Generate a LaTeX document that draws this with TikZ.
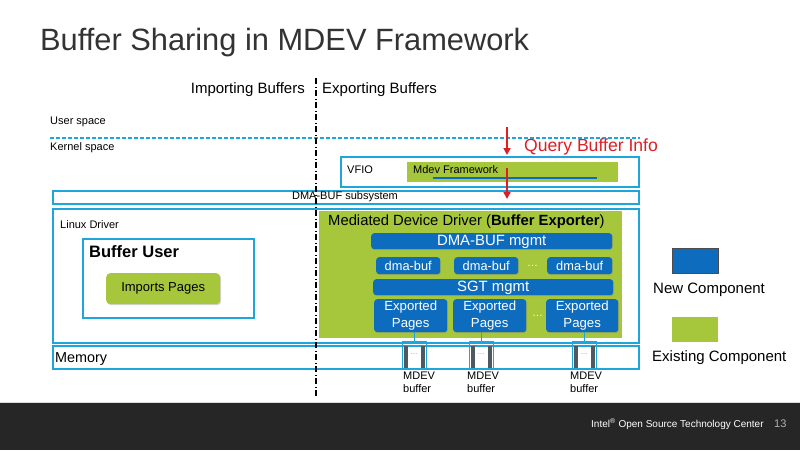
\documentclass[tikz,border=0pt]{standalone}
\usepackage{fontspec}
\setmainfont{Liberation Sans}
\usetikzlibrary{positioning,arrows.meta,shadows}

\definecolor{linecyan}{RGB}{30,165,220}
\definecolor{oldgreen}{RGB}{166,199,60}
\definecolor{newblue}{RGB}{14,108,190}
\definecolor{queryred}{RGB}{222,30,36}
\definecolor{titlegray}{RGB}{51,51,51}
\definecolor{footbg}{RGB}{38,38,38}
\definecolor{bargray}{RGB}{80,88,96}

\newcommand{\fsz}[1]{\fontsize{#1}{#1}\selectfont}

\tikzset{
  every node/.style={inner sep=0pt},
  layerbox/.style={draw=linecyan, line width=1.6pt, anchor=north west},
  greenbox/.style={fill=oldgreen, anchor=north west},
  bluebox/.style={fill=newblue, rounded corners=3pt, anchor=north west, text=white,
    drop shadow={shadow xshift=0.8pt, shadow yshift=-0.8pt, opacity=0.35}},
  bufbox/.style={draw=linecyan, line width=1pt, minimum width=24pt, minimum height=27pt},
  lbl/.style={anchor=base west},
  divider/.style={line width=1.3pt, dash pattern=on 6pt off 2.5pt on 1pt off 2.5pt},
  query/.style={queryred, line width=1.6pt, -{Triangle[length=7pt,width=7pt]}},
}

\begin{document}
\begin{tikzpicture}[x=1pt,y=-1pt]
  \useasboundingbox (0,0) rectangle (800,450);
  \fill[footbg] (0,402) rectangle (800,450);
  \draw[black!15, line width=0.8pt] (0,402) -- (800,402);

  % title and the two halves
  \node[lbl, text=titlegray, font=\fsz{30.8}] (title) at (40,50) {Buffer Sharing in MDEV Framework};
  \node[anchor=base east, font=\fsz{15}] (imp) at (305,93) {Importing Buffers};
  \node[lbl, font=\fsz{15}] (exp) at (322,93) {Exporting Buffers};
  \coordinate (divtop) at (316,78);
  \coordinate (divbot) at (316,398);

  % user / kernel split
  \node[lbl, font=\fsz{11}] (user) at (50,124) {User space};
  \node[lbl, font=\fsz{11}] (kernel) at (50,150) {Kernel space};
  \coordinate (splitl) at (50,138);
  \coordinate (splitr) at (640,138);
  \draw[linecyan, line width=1.2pt, dash pattern=on 4pt off 2pt] (splitl) -- (splitr);

  % VFIO
  \node[layerbox, minimum width=298pt, minimum height=30pt] (vfio) at (340,156) {};
  \node[lbl, font=\fsz{11}] (vfiotxt) at (347,173) {VFIO};
  \node[greenbox, minimum width=211pt, minimum height=20pt] (mdevfw) at (407,162) {};
  \node[lbl, font=\fsz{11}] (mdevtxt) at (413,173) {Mdev Framework};
  \draw[newblue, line width=2.5pt] (433,178) -- (597,178);

  % DMA-BUF subsystem
  \node[layerbox, minimum width=586pt, minimum height=13pt] (dmabuf) at (52,190) {};
  \node[font=\fsz{11}] (dmabuftxt) at (345,196.5) {DMA-BUF subsystem};

  % importer side
  \node[layerbox, minimum width=586pt, minimum height=134pt] (linux) at (52,208) {};
  \node[lbl, font=\fsz{11}] (linuxtxt) at (60,228) {Linux Driver};
  \node[layerbox, minimum width=171pt, minimum height=79pt] (user) at (82,238) {};
  \node[lbl, font=\bfseries\fsz{16.5}] (usertxt) at (89,257) {Buffer User};
  \node[greenbox, rounded corners=4pt, minimum width=114pt, minimum height=31pt, font=\fsz{13},
    drop shadow={shadow xshift=1pt, shadow yshift=-1pt, opacity=0.35}] (imports) at (106,273) {Imports Pages};

  % exporter side
  \node[greenbox, minimum width=303pt, minimum height=127pt] (mdd) at (319,211) {};
  \node[lbl, font=\fsz{14.8}] (mddtxt) at (328,225) {Mediated Device Driver (\textbf{Buffer Exporter})};
  \node[bluebox, minimum width=241pt, minimum height=16pt, text depth=1pt, font=\fsz{14.9}] (dmamgmt) at (371,233) {DMA-BUF mgmt};
  \node[bluebox, minimum width=64pt, minimum height=17pt, font=\fsz{12.8}] (db1) at (376,257) {dma-buf};
  \node[bluebox, minimum width=64pt, minimum height=17pt, font=\fsz{12.8}] (db2) at (454,257) {dma-buf};
  \node[bluebox, minimum width=65pt, minimum height=17pt, font=\fsz{12.8}] (db3) at (547,257) {dma-buf};
  \node[lbl, text=white, font=\fsz{11}] (dbdots) at (527,266) {…};
  \node[bluebox, minimum width=240pt, minimum height=16pt, text depth=1pt, font=\fsz{14.9}] (sgt) at (373,279) {SGT mgmt};
  \node[bluebox, minimum width=73pt, minimum height=33pt, align=center, font=\fontsize{13.2}{17}\selectfont] (ep1) at (374,299) {Exported\\Pages};
  \node[bluebox, minimum width=73pt, minimum height=33pt, align=center, font=\fontsize{13.2}{17}\selectfont] (ep2) at (453,299) {Exported\\Pages};
  \node[bluebox, minimum width=72pt, minimum height=33pt, align=center, font=\fontsize{13.2}{17}\selectfont] (ep3) at (546,299) {Exported\\Pages};
  \node[lbl, text=white, font=\fsz{11}] (epdots) at (532,316) {…};

  % memory
  \node[layerbox, minimum width=586pt, minimum height=23pt] (memory) at (52,345) {};
  \node[lbl, font=\fsz{14.4}] (memtxt) at (55,362) {Memory};
  \foreach \n/\x/\lx in {1/414/403, 2/481/467, 3/584/570} {
    \node[bufbox, font=\fsz{7}, text=gray] (mb\n) at (\x,354.5) {…};
    \fill[bargray] ([xshift=2pt,yshift=-5pt]mb\n.north west) rectangle ++(4,22);
    \fill[bargray] ([xshift=-6pt,yshift=-5pt]mb\n.north east) rectangle ++(4,22);
    \draw[linecyan, line width=1pt] (mb\n.north) -- (mb\n.north |- ep\n.south);
    \node[anchor=north west, align=left, font=\fontsize{11}{13}\selectfont] (mbl\n) at (\lx,372) {MDEV\\buffer};
  }

  \draw[divider] (divtop) -- (divbot);

  % query path
  \coordinate (qa) at (507,127);
  \coordinate (qb) at (507,155);
  \coordinate (qc) at (507,168);
  \coordinate (qd) at (507,199);
  \draw[query] (qa) -- (qb);
  \draw[query] (qc) -- (qd);
  \node[lbl, text=queryred, font=\fsz{17.6}] (querytxt) at (524,151) {Query Buffer Info};

  % legend
  \node[fill=newblue, draw=black!70, line width=0.8pt, minimum width=46pt, minimum height=25pt, anchor=north west] (newsq) at (672,248) {};
  \node[lbl, font=\fsz{15}] (newtxt) at (653,293) {New Component};
  \node[greenbox, minimum width=46pt, minimum height=25pt] (oldsq) at (672,317) {};
  \node[lbl, font=\fsz{15}] (oldtxt) at (652,361) {Existing Component};

  % footer
  \node[lbl, text=white, font=\fsz{10}] (foot) at (591,427) {Intel\textsuperscript{®} Open Source Technology Center};
  \node[lbl, text=white!70!black, font=\fsz{11}] (pageno) at (774,427) {13};
\end{tikzpicture}
\end{document}
